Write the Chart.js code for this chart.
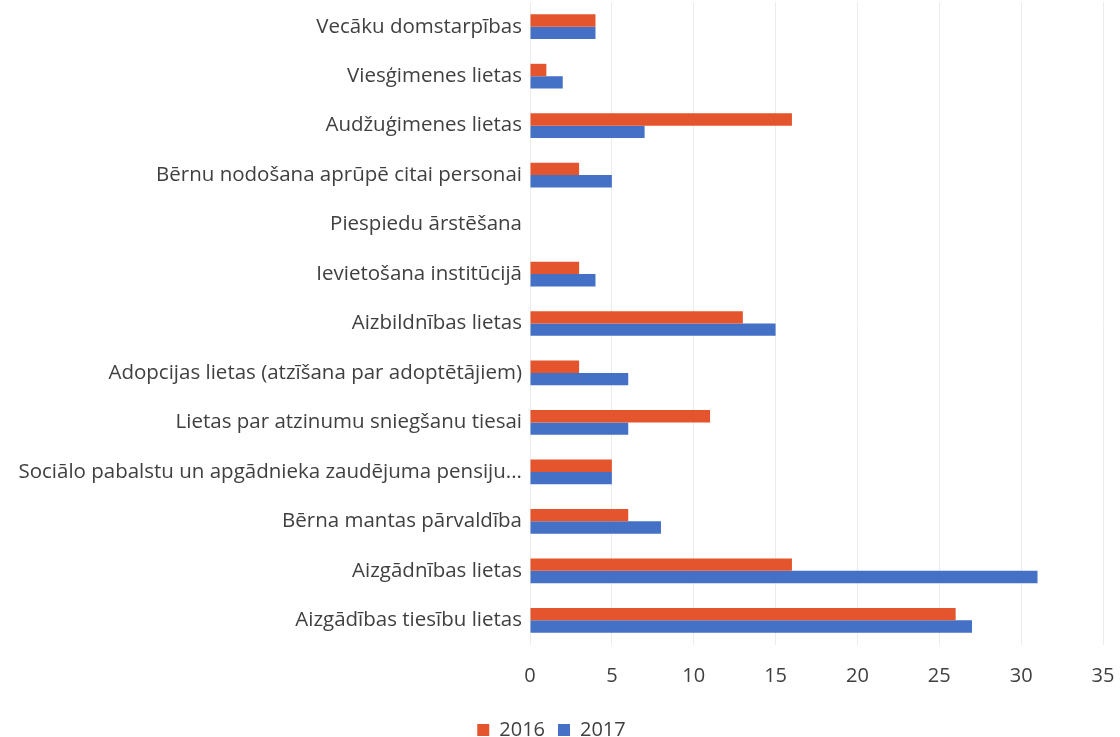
<!DOCTYPE html>
<html>
<head>
<meta charset="utf-8">
<script src="https://cdn.jsdelivr.net/npm/chart.js@4/dist/chart.umd.min.js"></script>
<style>
  html, body { margin: 0; padding: 0; background: #fff; }
  #wrap { width: 1120px; height: 737px; }
</style>
</head>
<body>
<div id="wrap"><canvas id="myChart" width="1120" height="737"></canvas></div>
<script>
var categories = [
  "Vecāku domstarpības",
  "Viesģimenes lietas",
  "Audžuģimenes lietas",
  "Bērnu nodošana aprūpē citai personai",
  "Piespiedu ārstēšana",
  "Ievietošana institūcijā",
  "Aizbildnības lietas",
  "Adopcijas lietas (atzīšana par adoptētājiem)",
  "Lietas par atzinumu sniegšanu tiesai",
  "Sociālo pabalstu un apgādnieka zaudējuma pensiju...",
  "Bērna mantas pārvaldība",
  "Aizgādnības lietas",
  "Aizgādības tiesību lietas"
];
var values2016 = [4, 1, 16, 3, 0, 3, 13, 3, 11, 5, 6, 16, 26];
var values2017 = [4, 2, 7, 5, 0, 4, 15, 6, 6, 5, 8, 31, 27];
var xTicks = [0, 5, 10, 15, 20, 25, 30, 35];

var orange = "#e4552d",
    blue = "#4470c6",
    textGrey = "#404040";

var ctx = document.getElementById("myChart").getContext("2d");

new Chart(ctx, {
  type: "bar",
  data: {
    labels: categories,
    datasets: [{
      label: "2016",
      data: values2016,
      backgroundColor: orange,
      borderWidth: 0
    }, {
      label: "2017",
      data: values2017,
      backgroundColor: blue,
      borderWidth: 0
    }]
  },
  options: {
    indexAxis: "y",
    responsive: false,
    animation: false,
    categoryPercentage: 0.5,
    barPercentage: 1.0,
    layout: { padding: { top: 2, right: 17, bottom: -13, left: 0 } },
    scales: {
      x: {
        min: xTicks[0],
        max: xTicks[xTicks.length - 1],
        afterBuildTicks: function(axis) {
          axis.ticks = xTicks.map(function(v) { return { value: v }; });
        },
        afterFit: function(axis) {
          axis.paddingLeft = 0;
          axis.paddingRight = 0;
        },
        grid: { color: "#ececec", lineWidth: 1, drawTicks: false },
        border: { display: false },
        ticks: {
          color: textGrey,
          padding: 19,
          font: { family: "Open Sans", size: 20 }
        }
      },
      y: {
        afterFit: function(axis) {
          axis.width = 530;
          axis.paddingTop = 0;
          axis.paddingBottom = 0;
        },
        grid: { display: false, drawTicks: false },
        border: { display: false },
        ticks: {
          color: textGrey,
          padding: 8,
          autoSkip: false,
          font: { family: "Open Sans", size: 20.5 }
        }
      }
    },
    plugins: {
      legend: {
        position: "bottom",
        labels: {
          boxWidth: 12,
          boxHeight: 12,
          padding: 13,
          color: textGrey,
          font: { family: "Open Sans", size: 20 }
        }
      },
      tooltip: { enabled: false }
    }
  }
});
</script>
</body>
</html>
